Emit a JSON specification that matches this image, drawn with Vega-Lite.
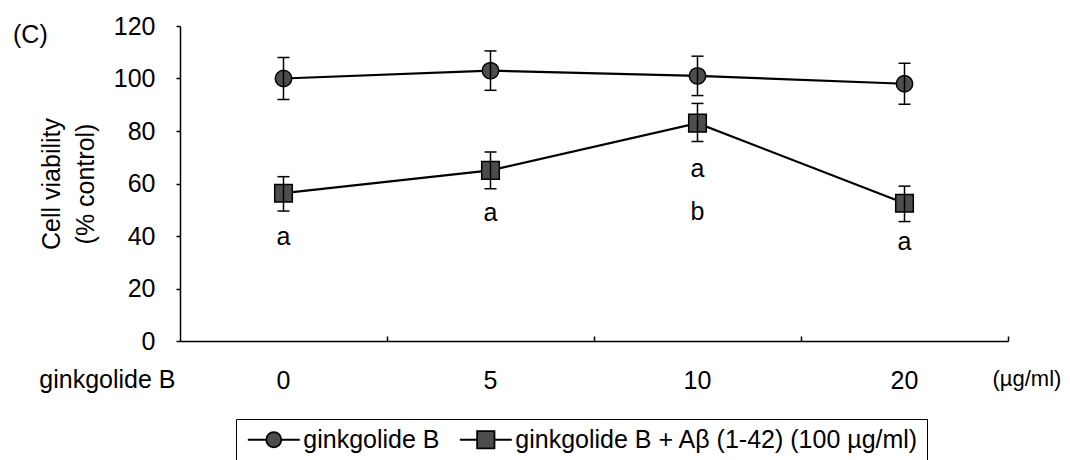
{
  "$schema": "https://vega.github.io/schema/vega-lite/v6.json",
  "width": 828,
  "height": 315,
  "autosize": {"type": "none"},
  "padding": {"left": 180, "top": 26, "right": 62, "bottom": 119},
  "background": "white",
  "config": {
    "font": "Liberation Sans",
    "view": {"stroke": null},
    "axis": {
      "domainColor": "black", "tickColor": "black", "labelColor": "black", "titleColor": "black",
      "labelFont": "Liberation Sans", "titleFont": "Liberation Sans",
      "labelFontSize": 25, "titleFontSize": 25, "titleFontWeight": "normal",
      "grid": false, "domainWidth": 1.5, "tickWidth": 1.5
    }
  },
  "title": {
    "text": "(C)", "anchor": "start", "frame": "group", "fontSize": 25, "fontWeight": "normal",
    "font": "Liberation Sans", "color": "black", "dx": -167, "dy": 38
  },
  "datasets": {
    "points": [
      {"series": "ginkgolide B", "dose": "0", "mean": 100, "lo": 92, "hi": 108},
      {"series": "ginkgolide B", "dose": "5", "mean": 103, "lo": 95.5, "hi": 110.5},
      {"series": "ginkgolide B", "dose": "10", "mean": 101, "lo": 93.5, "hi": 108.5},
      {"series": "ginkgolide B", "dose": "20", "mean": 98, "lo": 90.2, "hi": 105.8},
      {"series": "ginkgolide B + Aβ (1-42) (100 µg/ml)", "dose": "0", "mean": 56.3, "lo": 49.5, "hi": 62.6},
      {"series": "ginkgolide B + Aβ (1-42) (100 µg/ml)", "dose": "5", "mean": 65, "lo": 58, "hi": 72},
      {"series": "ginkgolide B + Aβ (1-42) (100 µg/ml)", "dose": "10", "mean": 83, "lo": 76, "hi": 90.5},
      {"series": "ginkgolide B + Aβ (1-42) (100 µg/ml)", "dose": "20", "mean": 52.5, "lo": 45.5, "hi": 59}
    ],
    "letters": [
      {"dose": "0", "pos": 36.6, "label": "a"},
      {"dose": "5", "pos": 45.8, "label": "a"},
      {"dose": "10", "pos": 62.6, "label": "a"},
      {"dose": "10", "pos": 46.1, "label": "b"},
      {"dose": "20", "pos": 34.7, "label": "a"}
    ]
  },
  "encoding": {
    "x": {
      "field": "dose", "type": "ordinal", "sort": ["0", "5", "10", "20"],
      "scale": {"type": "band", "paddingInner": 0, "paddingOuter": 0},
      "axis": {
        "bandPosition": 1, "labelAngle": 0, "tickSize": -5,
        "labelPadding": 32, "title": "ginkgolide B", "titleX": -5, "titleY": 46,
        "titleAlign": "right", "titleBaseline": "alphabetic", "titleAngle": 0
      }
    }
  },
  "layer": [
    {
      "data": {"name": "points"},
      "mark": {"type": "line", "color": "black", "strokeWidth": 2.2},
      "encoding": {
        "y": {
          "field": "mean", "type": "quantitative",
          "scale": {"domain": [0, 120], "nice": false, "zero": true},
          "axis": {
            "values": [0, 20, 40, 60, 80, 100, 120], "tickSize": 4, "labelPadding": 21,
            "title": ["Cell viability", "(% control)"], "titleLineHeight": 34, "titlePadding": 15
          }
        },
        "detail": {"field": "series"}
      }
    },
    {
      "data": {"name": "points"},
      "transform": [{"filter": "datum.series === 'ginkgolide B'"}],
      "mark": {"type": "point", "shape": "circle", "filled": true, "stroke": "black", "strokeWidth": 1.5, "opacity": 1, "size": 270},
      "encoding": {
        "y": {"field": "mean", "type": "quantitative", "axis": null},
        "color": {
          "field": "series", "type": "nominal",
          "scale": {"domain": ["ginkgolide B", "ginkgolide B + Aβ (1-42) (100 µg/ml)"], "range": ["#4d4d4d", "#4d4d4d"]},
          "legend": {
            "title": null, "orient": "none", "legendX": 56, "legendY": 393, "direction": "horizontal",
            "strokeColor": "black", "padding": 8, "labelFontSize": 25, "labelFont": "Liberation Sans",
            "labelColor": "black", "symbolSize": 300, "symbolOffset": 17.3, "labelOffset": 17,
            "columnPadding": 16, "labelLimit": 0, "symbolOpacity": 1,
            "symbolStrokeColor": "black", "symbolStrokeWidth": 1.8,
            "symbolType": {"expr": "datum.value === 'ginkgolide B' ? 'M-3,0H-0.87M0.87,0H3M0.87,0A0.87,0.87 0 1,1 -0.87,0A0.87,0.87 0 1,1 0.87,0Z' : 'M-3,0H-1M1,0H3M-1,-1H1V1H-1Z'"}
          }
        }
      }
    },
    {
      "data": {"name": "points"},
      "transform": [{"filter": "datum.series !== 'ginkgolide B'"}],
      "mark": {"type": "point", "shape": "square", "filled": true, "fill": "#4d4d4d", "stroke": "black", "strokeWidth": 1.5, "opacity": 1, "size": 310},
      "encoding": {
        "y": {"field": "mean", "type": "quantitative", "axis": null}
      }
    },
    {
      "data": {"name": "points"},
      "mark": {"type": "rule", "color": "black", "strokeWidth": 1.5},
      "encoding": {
        "y": {"field": "lo", "type": "quantitative", "axis": null},
        "y2": {"field": "hi"}
      }
    },
    {
      "data": {"name": "points"},
      "mark": {"type": "tick", "color": "black", "size": 12, "thickness": 1.5, "opacity": 1},
      "encoding": {"y": {"field": "lo", "type": "quantitative", "axis": null}}
    },
    {
      "data": {"name": "points"},
      "mark": {"type": "tick", "color": "black", "size": 12, "thickness": 1.5, "opacity": 1},
      "encoding": {"y": {"field": "hi", "type": "quantitative", "axis": null}}
    },
    {
      "data": {"name": "letters"},
      "mark": {"type": "text", "fontSize": 25, "font": "Liberation Sans", "color": "black", "baseline": "alphabetic"},
      "encoding": {
        "y": {
          "field": "pos", "type": "quantitative",
          "axis": {
            "orient": "right", "domain": false, "ticks": false, "labels": false,
            "title": "(µg/ml)", "titleAngle": 0, "titleX": -16, "titleY": 359,
            "titleAlign": "left", "titleBaseline": "alphabetic", "titleFontSize": 22
          }
        },
        "text": {"field": "label"}
      }
    }
  ],
  "resolve": {"axis": {"y": "independent"}}
}
